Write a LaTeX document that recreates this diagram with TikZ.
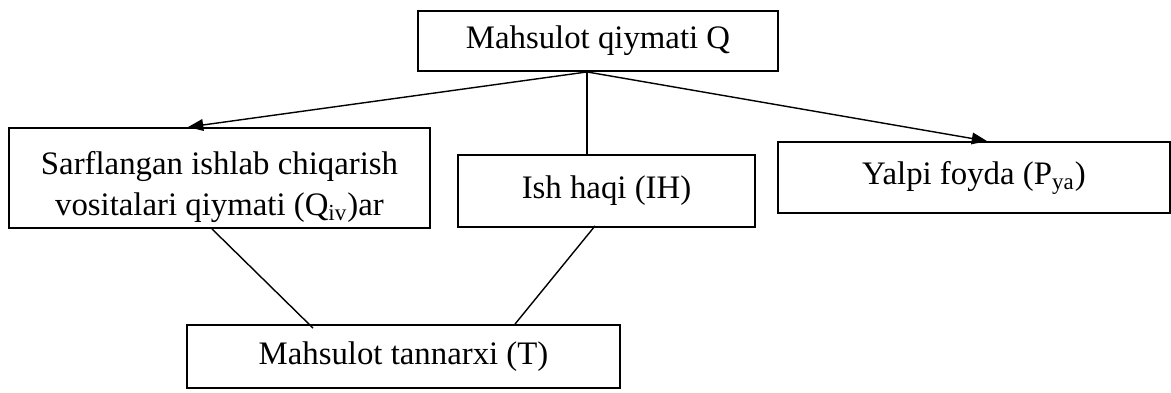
\documentclass[tikz,border=0pt]{standalone}
\usepackage{fontspec}
\setmainfont{Liberation Serif}
\usetikzlibrary{arrows.meta, positioning, calc}
\tikzstyle{arrow} = [line width=0.6pt,-{Triangle[length=6.5pt,width=5pt]}]
\tikzstyle{link} = [line width=0.6pt]
\tikzstyle{block} = [rectangle, draw=black, line width=0.8pt, align=center, inner sep=0pt]

\begin{document}
\begin{tikzpicture}[x=0.015cm, y=-0.015cm, font=\fontsize{14}{17.5}\selectfont]
\useasboundingbox (0,0) rectangle (1171,392);
% Placement of blocks
\node (value) [block, minimum width=360*0.015cm, minimum height=60*0.015cm] at (598,41) {Mahsulot qiymati Q};
\node (spent) [block, minimum width=421*0.015cm, minimum height=100*0.015cm] at (219.5,178) {\raisebox{-3.8pt}[\height][\depth]{\begin{tabular}{@{}c@{}}Sarflangan ishlab chiqarish\\vositalari qiymati (Q\textsubscript{iv})ar\end{tabular}}};
\node (wage) [block, minimum width=297*0.015cm, minimum height=72*0.015cm] at (606.5,191) {Ish haqi (IH)};
\node (profit) [block, minimum width=392*0.015cm, minimum height=71*0.015cm] at (974,177.5) {Yalpi foyda (P\textsubscript{ya})};
\node (cost) [block, minimum width=433*0.015cm, minimum height=63*0.015cm] at (403.5,356.5) {Mahsulot tannarxi (T)};

% Lines from the top block
\coordinate (hub) at ([xshift=-11*0.015cm]value.south);
\draw [arrow] (hub) -- ([xshift=-31.5*0.015cm]spent.north);
\draw [link] (hub) -- (hub |- wage.north);
\draw [arrow] (hub) -- ([xshift=13*0.015cm]profit.north);

% Lines to the cost block
\draw [link] ([xshift=-7.5*0.015cm]spent.south) -- ([xshift=-90.5*0.015cm,yshift=-4*0.015cm]cost.north);
\draw [link] ([xshift=-11.5*0.015cm,yshift=2*0.015cm]wage.south) -- ([xshift=111.5*0.015cm]cost.north);
\end{tikzpicture}
\end{document}
